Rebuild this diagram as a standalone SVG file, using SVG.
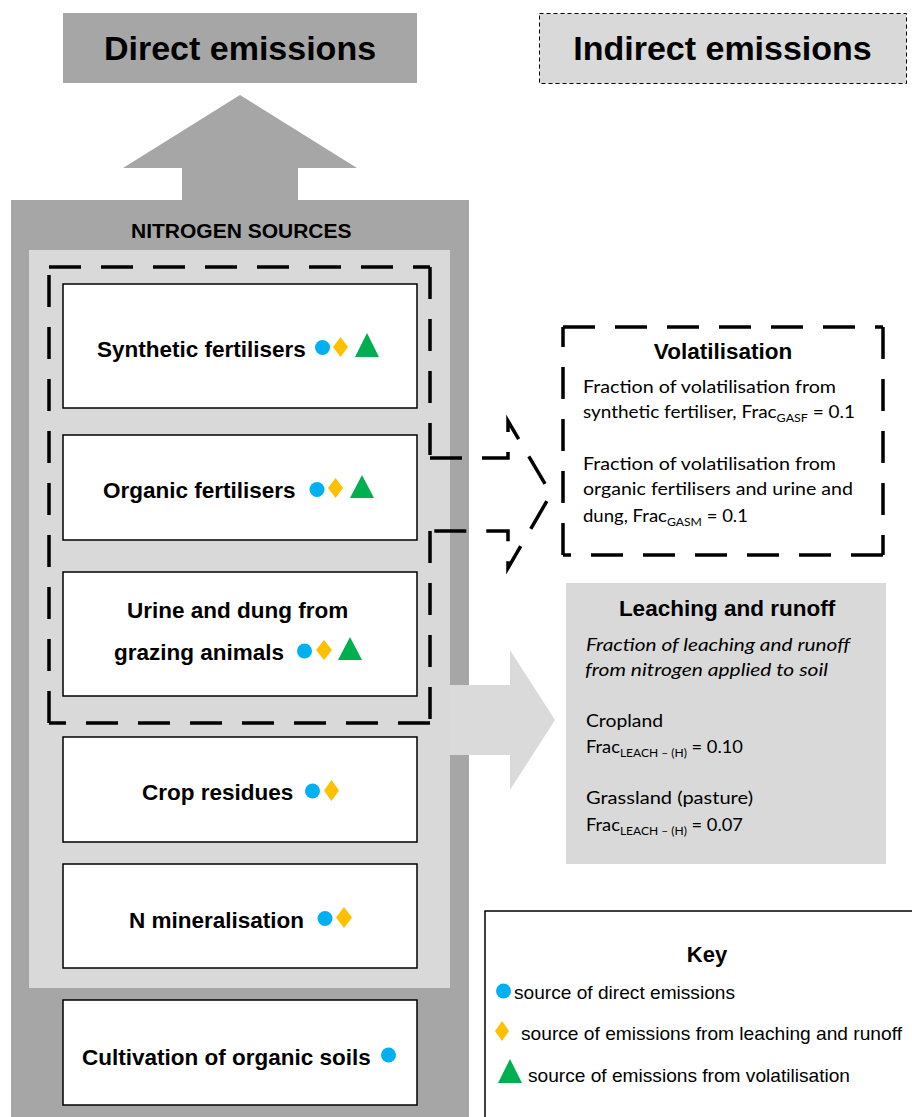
<svg xmlns="http://www.w3.org/2000/svg" width="912" height="1117" viewBox="0 0 912 1117">
<style>
.dark{fill:#a6a6a6}
.light{fill:#d9d9d9}
.node{fill:#ffffff;stroke:#000;stroke-width:1.5}
.lbl{font-family:"Liberation Sans",Arial,sans-serif;font-weight:bold;font-size:22.5px;fill:#000}
.title{font-family:"Liberation Sans",Arial,sans-serif;font-weight:bold;font-size:34px;fill:#000;text-anchor:middle}
.body{font-family:Lato,"Open Sans",sans-serif;font-size:17.5px;fill:#000}
.it{font-style:italic}
.sub{font-size:11.5px}
.key{font-family:"Liberation Sans",Arial,sans-serif;font-size:19px;fill:#000}
.dash{fill:none;stroke:#000;stroke-width:3.5;stroke-dasharray:32 20}
.dot{fill:#00b0f0}
.dia{fill:#ffc000}
.tri{fill:#00b050}
</style>

<g id="direct-emissions">
<rect x="63" y="13" width="354" height="70" class="dark"/>
<text x="240" y="60" class="title">Direct emissions</text>
</g>

<g id="indirect-emissions">
<rect x="539.5" y="13.5" width="367" height="70" class="light" stroke="#000" stroke-width="1" stroke-dasharray="4 3"/>
<text x="722.5" y="60" class="title">Indirect emissions</text>
</g>

<g id="nitrogen-sources">
<rect x="11" y="200" width="458" height="917" class="dark"/>
<rect x="29" y="250" width="421" height="738" class="light"/>
<text x="131" y="238" font-family="Liberation Sans, Arial, sans-serif" font-weight="bold" font-size="21">NITROGEN SOURCES</text>
</g>

<g id="connectors">
<polygon points="240,95 357,168 298,168 298,201 182,201 182,168 123,168" class="dark"/>
<polygon points="450,685 510,685 510,650 555,720 510,790 510,755 450,755" fill="#dadada"/>
<path d="M49,267 H430 M430,267 V458 M430,458 H508 V421 L551,494 L508,568 V531 H430 M430,531 V723 M430,723 H49 M49,723 V267" class="dash"/>
</g>

<g id="synthetic-fertilisers">
<rect x="63" y="284" width="354" height="124" class="node"/>
<text x="97" y="357" class="lbl">Synthetic fertilisers</text>
<circle cx="322.5" cy="347.5" r="7.5" class="dot"/>
<polygon points="340.5,337 348,347 340.5,357 333,347" class="dia"/>
<polygon points="367,333 379,357 355,357" class="tri"/>
</g>

<g id="organic-fertilisers">
<rect x="63" y="435" width="354" height="105" class="node"/>
<text x="103" y="498" class="lbl">Organic fertilisers</text>
<circle cx="317" cy="489.5" r="7.5" class="dot"/>
<polygon points="335.5,478 343,488 335.5,498 328,488" class="dia"/>
<polygon points="362,475 374,498 350,498" class="tri"/>
</g>

<g id="urine-dung">
<rect x="63" y="572" width="354" height="124" class="node"/>
<text x="127" y="618" class="lbl">Urine and dung from</text>
<text x="114" y="660" class="lbl">grazing animals</text>
<circle cx="304.5" cy="651" r="7.5" class="dot"/>
<polygon points="324,640 332,650 324,660 316,650" class="dia"/>
<polygon points="350,637 362,660 338,660" class="tri"/>
</g>

<g id="crop-residues">
<rect x="63" y="737" width="354" height="105" class="node"/>
<text x="142" y="800" class="lbl">Crop residues</text>
<circle cx="312.5" cy="791" r="7.5" class="dot"/>
<polygon points="331.5,780 339,790.5 331.5,801 324,790.5" class="dia"/>
</g>

<g id="n-mineralisation">
<rect x="63" y="864" width="354" height="104" class="node"/>
<text x="129" y="928" class="lbl">N mineralisation</text>
<circle cx="325" cy="918.5" r="7.5" class="dot"/>
<polygon points="344,907 352,917.5 344,928 336,917.5" class="dia"/>
</g>

<g id="cultivation-organic-soils">
<rect x="63" y="1000" width="354" height="105" class="node"/>
<text x="82" y="1065" class="lbl">Cultivation of organic soils</text>
<circle cx="388.5" cy="1055" r="7.5" class="dot"/>
</g>

<g id="volatilisation">
<path d="M563,327 H883 M883,327 V555 M883,555 H563 M563,555 V327" class="dash"/>
<text x="723" y="359" class="lbl" text-anchor="middle">Volatilisation</text>
<text x="583" y="393" class="body" textLength="253" lengthAdjust="spacingAndGlyphs">Fraction of volatilisation from</text>
<text x="583" y="418" class="body" textLength="272" lengthAdjust="spacingAndGlyphs">synthetic fertiliser, Frac<tspan class="sub" dy="4">GASF</tspan><tspan dy="-4"> = 0.1</tspan></text>
<text x="583" y="470" class="body" textLength="253" lengthAdjust="spacingAndGlyphs">Fraction of volatilisation from</text>
<text x="583" y="495" class="body" textLength="270" lengthAdjust="spacingAndGlyphs">organic fertilisers and urine and</text>
<text x="583" y="522" class="body" textLength="165" lengthAdjust="spacingAndGlyphs">dung, Frac<tspan class="sub" dy="4">GASM</tspan><tspan dy="-4"> = 0.1</tspan></text>
</g>

<g id="leaching-runoff">
<rect x="566" y="583" width="320" height="281" class="light"/>
<text x="727" y="616" class="lbl" text-anchor="middle">Leaching and runoff</text>
<text x="586" y="651" class="body it" textLength="264" lengthAdjust="spacingAndGlyphs">Fraction of leaching and runoff</text>
<text x="585" y="676" class="body it" textLength="243" lengthAdjust="spacingAndGlyphs">from nitrogen applied to soil</text>
<text x="586" y="727" class="body" textLength="77" lengthAdjust="spacingAndGlyphs">Cropland</text>
<text x="586" y="753" class="body" textLength="157" lengthAdjust="spacingAndGlyphs">Frac<tspan class="sub" dy="4">LEACH – (H)</tspan><tspan dy="-4"> = 0.10</tspan></text>
<text x="586" y="804" class="body" textLength="167" lengthAdjust="spacingAndGlyphs">Grassland (pasture)</text>
<text x="586" y="831" class="body" textLength="157" lengthAdjust="spacingAndGlyphs">Frac<tspan class="sub" dy="4">LEACH – (H)</tspan><tspan dy="-4"> = 0.07</tspan></text>
</g>

<g id="key">
<rect x="485" y="911" width="450" height="240" fill="#fff" stroke="#000" stroke-width="1.5"/>
<text x="707" y="962" font-family="Liberation Sans, Arial, sans-serif" font-weight="bold" font-size="22" text-anchor="middle">Key</text>
<circle cx="503.5" cy="991" r="7.5" class="dot"/>
<text x="514" y="999" class="key" textLength="221" lengthAdjust="spacingAndGlyphs">source of direct emissions</text>
<polygon points="502,1021 509,1031 502,1041 495,1031" class="dia"/>
<text x="521" y="1040" class="key" textLength="381" lengthAdjust="spacingAndGlyphs">source of emissions from leaching and runoff</text>
<polygon points="510,1059 522,1083 498,1083" class="tri"/>
<text x="528" y="1082" class="key" textLength="322" lengthAdjust="spacingAndGlyphs">source of emissions from volatilisation</text>
</g>
</svg>
